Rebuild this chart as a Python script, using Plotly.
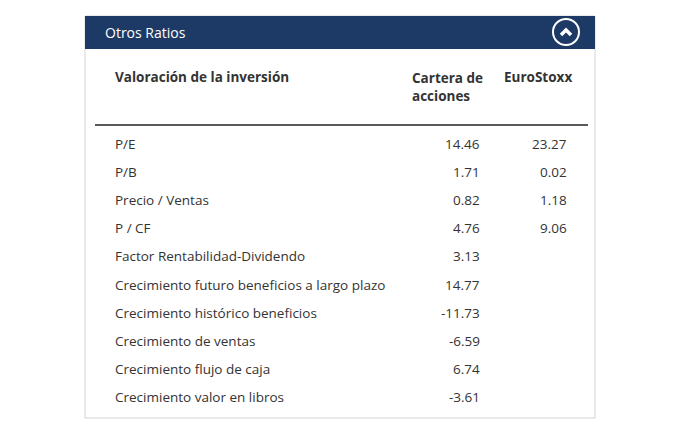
import plotly.graph_objects as go

title = "Otros Ratios"
col_headers = ["Valoración de la inversión", "Cartera de<br>acciones", "EuroStoxx"]
metrics = ["P/E", "P/B", "Precio / Ventas", "P / CF", "Factor Rentabilidad-Dividendo",
           "Crecimiento futuro beneficios a largo plazo", "Crecimiento histórico beneficios",
           "Crecimiento de ventas", "Crecimiento flujo de caja", "Crecimiento valor en libros"]
cartera = ["14.46", "1.71", "0.82", "4.76", "3.13", "14.77", "-11.73", "-6.59", "6.74", "-3.61"]
eurostoxx = ["23.27", "0.02", "1.18", "9.06", "", "", "", "", "", ""]

W, H = 693, 430
O = 8  # page body margin offset
fig = go.Figure()
font = "Open Sans"
txt = "#333333"
shapes = [
    dict(type="rect", x0=85-O, x1=595-O, y0=16-O, y1=418-O, line=dict(color="#d4d4d4", width=1), fillcolor="white"),
    dict(type="rect", x0=85-O, x1=595-O, y0=16-O, y1=49-O, line=dict(width=0), fillcolor="#1d3a66"),
    dict(type="circle", x0=553-O, x1=579-O, y0=19-O, y1=45-O, line=dict(color="white", width=2)),
    dict(type="path", path="M %f %f L %f %f L %f %f" % (561-O, 35-O, 566-O, 30-O, 571-O, 35-O),
         line=dict(color="white", width=3.5)),
    dict(type="line", x0=95-O, x1=588-O, y0=125-O, y1=125-O, line=dict(color="#222222", width=1.5)),
]
ann = [dict(x=103-O, y=32-O, text=title, showarrow=False, xanchor="left", yanchor="middle",
            font=dict(family=font, size=14, color="white"))]
ann.append(dict(x=113-O, y=77-O, text="<b>%s</b>" % col_headers[0], showarrow=False, xanchor="left", yanchor="middle",
                font=dict(family=font, size=13.5, color=txt)))
ann.append(dict(x=410-O, y=67-O, text="<b>%s</b>" % col_headers[1], showarrow=False, xanchor="left", yanchor="top", align="left",
                font=dict(family=font, size=13.5, color=txt)))
ann.append(dict(x=502-O, y=77-O, text="<b>%s</b>" % col_headers[2], showarrow=False, xanchor="left", yanchor="middle",
                font=dict(family=font, size=13.5, color=txt)))
for i, m in enumerate(metrics):
    y = 144 + i * 28.1 - O
    ann.append(dict(x=113-O, y=y, text=m, showarrow=False, xanchor="left", yanchor="middle",
                    font=dict(family=font, size=13.5, color=txt)))
    ann.append(dict(x=482-O, y=y, text=cartera[i], showarrow=False, xanchor="right", yanchor="middle",
                    font=dict(family=font, size=13.5, color=txt)))
    if eurostoxx[i]:
        ann.append(dict(x=569-O, y=y, text=eurostoxx[i], showarrow=False, xanchor="right", yanchor="middle",
                        font=dict(family=font, size=13.5, color=txt)))

fig.update_layout(width=W, height=H, margin=dict(l=0, r=0, t=0, b=0),
                  paper_bgcolor="white", plot_bgcolor="white",
                  xaxis=dict(range=[0, W], visible=False, fixedrange=True),
                  yaxis=dict(range=[H, 0], visible=False, fixedrange=True),
                  shapes=shapes, annotations=ann, showlegend=False)
fig.write_html("out.html", config={"displayModeBar": False})
